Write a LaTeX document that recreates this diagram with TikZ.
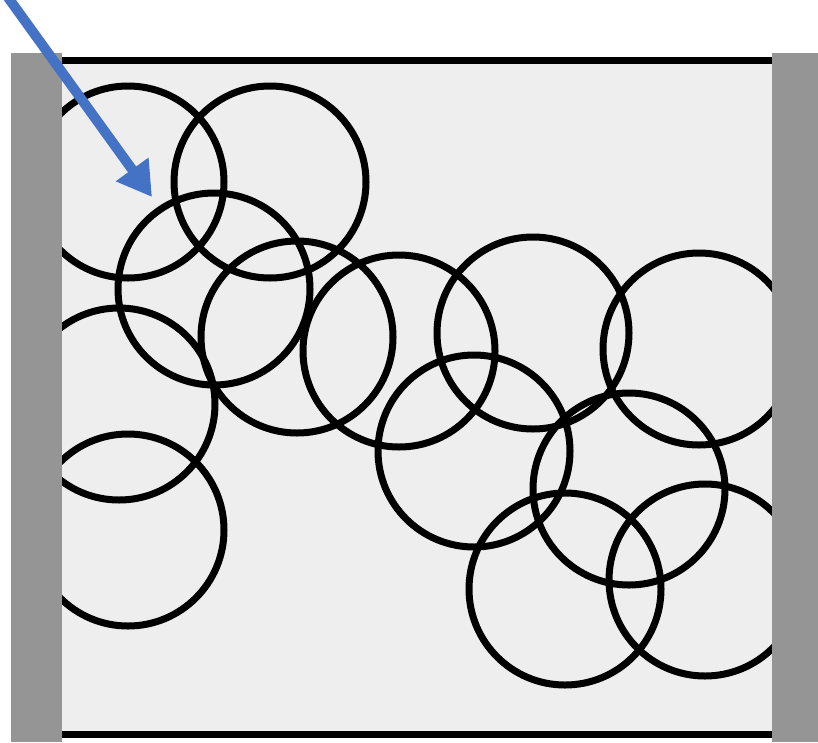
\documentclass[tikz,border=0pt]{standalone}
\usetikzlibrary{arrows.meta}

\definecolor{wallgray}{HTML}{959595}
\definecolor{cellgray}{HTML}{EEEEEE}
\definecolor{pointblue}{HTML}{4472C4}

\tikzset{
grain/.style={draw=black, line width=7pt},
wall/.style={fill=wallgray, draw=none},
plate/.style={draw=black, line width=7pt}
}

\begin{document}
\begin{tikzpicture}[x=1pt, y=-1pt]

\useasboundingbox (0,0) rectangle (818,742);

%%%%%%%%%%%%%%%%%%%%%%%%%%%%%%%%%%%%%%%%%%%%%%%%%%%%%%
% CELL
%%%%%%%%%%%%%%%%%%%%%%%%%%%%%%%%%%%%%%%%%%%%%%%%%%%%%%

\fill[white] (0,0) rectangle (818,742);

\fill[cellgray] (62,60) rectangle (772,734);

%%%%%%%%%%%%%%%%%%%%%%%%%%%%%%%%%%%%%%%%%%%%%%%%%%%%%%
% GRAINS
%%%%%%%%%%%%%%%%%%%%%%%%%%%%%%%%%%%%%%%%%%%%%%%%%%%%%%

\begin{scope}
\clip (62,60) rectangle (772,734);

\draw[grain] (128,182) circle (96);
\draw[grain] (270,182) circle (96);
\draw[grain] (214,289) circle (96);
\draw[grain] (119,404) circle (96);
\draw[grain] (128,530) circle (96);
\draw[grain] (297,337) circle (96);
\draw[grain] (399,351) circle (96);
\draw[grain] (533,333) circle (96);
\draw[grain] (699,349) circle (96);
\draw[grain] (474,451) circle (96);
\draw[grain] (629,489) circle (96);
\draw[grain] (565,589) circle (96);
\draw[grain] (705,580) circle (96);

\end{scope}

%%%%%%%%%%%%%%%%%%%%%%%%%%%%%%%%%%%%%%%%%%%%%%%%%%%%%%
% PLATES
%%%%%%%%%%%%%%%%%%%%%%%%%%%%%%%%%%%%%%%%%%%%%%%%%%%%%%

\draw[plate] (62,60.5) -- (772,60.5);

\draw[plate] (62,734) -- (772,734);

\fill[wall] (11,53) rectangle (62,742);

\fill[wall] (772,53) rectangle (818,742);

%%%%%%%%%%%%%%%%%%%%%%%%%%%%%%%%%%%%%%%%%%%%%%%%%%%%%%
% ARROW
%%%%%%%%%%%%%%%%%%%%%%%%%%%%%%%%%%%%%%%%%%%%%%%%%%%%%%

\coordinate (arrowtail) at (7,-4);
\coordinate (arrowtip) at (152,197);

\draw[
pointblue,
line width=10pt,
-{Triangle[length=34pt,width=38pt]}
] (arrowtail) -- (arrowtip);

\end{tikzpicture}
\end{document}
